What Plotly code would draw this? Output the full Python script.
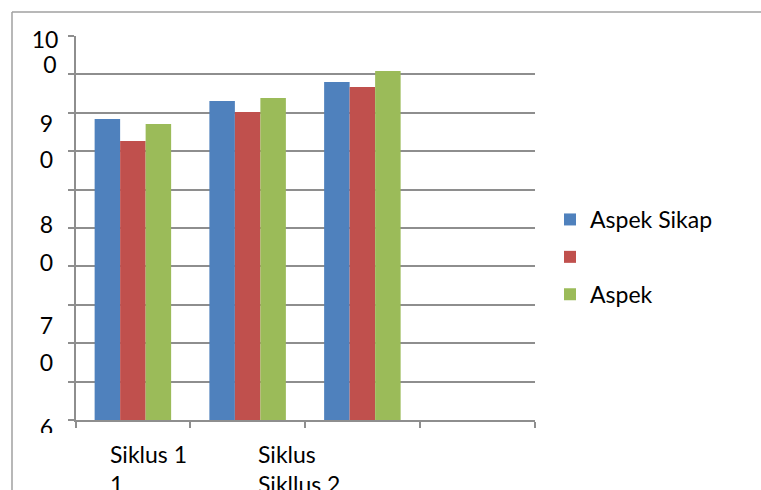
import plotly.graph_objects as go

# ---- data ----
categories = ["Siklus 1", "Siklus 2", "Siklus 3", "Siklus 4"]
series_names = ["Aspek Sikap", "", "Aspek"]
series_colors = ["#4F81BD", "#C0504D", "#9BBB59"]
aspek_sikap = [91.35, 93.23, 95.21, None]
aspek_tengah = [89.06, 92.08, 94.69, None]
aspek_lain = [90.83, 93.54, 96.35, None]

# wrapped y tick label pieces as they appear in the picture
y_label_pieces = ["10", "0", "9", "0", "8", "0", "7", "0", "6"]
y_label_values = [99.38, 96.77, 90.63, 86.88, 80.10, 76.15, 69.58, 65.73, 58.96]
y_label_x = [45, 50, 46.5, 46.5, 46.5, 46.5, 46.5, 46.5, 46.5]

# category labels as they appear (wrapped)
x_label_text = ["Siklus 1<br>1", "Siklus<br>Sikllus 2"]
x_label_left_px = [108, 256]

W, H = 761, 490
FONT = "Lato"
GRAY = "#8e8e8e"


def pxx(x):
    return x / W


def pxy(y):
    return 1 - y / H


fig = go.Figure()
for name, vals, col in zip(series_names, [aspek_sikap, aspek_tengah, aspek_lain], series_colors):
    fig.add_trace(go.Bar(x=categories, y=vals, name=name, marker_color=col,
                         marker_line_width=0, legendgroup=name or "mid"))

# y labels as text on an overlay subplot that clips them
fig.add_trace(go.Scatter(x=y_label_x, y=y_label_values, text=y_label_pieces, mode="text",
                         textposition="middle center", cliponaxis=True,
                         textfont=dict(family=FONT, size=23, color="black"),
                         xaxis="x2", yaxis="y2", showlegend=False, hoverinfo="skip"))

px_per_unit = 384 / 40.0
y2_bottom = 60 - (433 - 420) / px_per_unit
y2_top = 60 + 420 / px_per_unit

fig.update_layout(
    width=W, height=H,
    margin=dict(l=0, r=0, t=0, b=0),
    paper_bgcolor="white", plot_bgcolor="white",
    barmode="group", bargap=1.5 / 4.5, bargroupgap=0,
    font=dict(family=FONT, size=23, color="black"),
    xaxis=dict(type="category", domain=[pxx(75.5), pxx(534.5)], range=[-0.5, 3.5],
               showticklabels=False, ticks="outside", tickson="boundaries", ticklen=6,
               tickwidth=1.5, tickcolor=GRAY, showline=True, linecolor=GRAY, linewidth=1.5,
               showgrid=False, zeroline=False, fixedrange=True),
    yaxis=dict(domain=[pxy(420), pxy(36)], range=[60, 100], dtick=4, tick0=60,
               showticklabels=False, ticks="outside", ticklen=6, tickwidth=1.5, tickcolor=GRAY,
               showline=True, linecolor=GRAY, linewidth=1.5, showgrid=True, gridcolor=GRAY,
               gridwidth=1.5, zeroline=False, fixedrange=True),
    xaxis2=dict(domain=[0, pxx(75)], range=[0, 75], visible=False, anchor="y2", fixedrange=True),
    yaxis2=dict(domain=[pxy(433), 1], range=[y2_bottom, y2_top], visible=False,
                anchor="x2", fixedrange=True),
    legend=dict(x=pxx(550), xanchor="left", y=pxy(198), yanchor="top",
                font=dict(family=FONT, size=23), bgcolor="rgba(0,0,0,0)",
                tracegroupgap=4.5, traceorder="grouped"),
    showlegend=True,
)

# outer frame (top and left edges)
fig.add_shape(type="line", xref="paper", yref="paper", x0=pxx(12), x1=1, y0=pxy(12), y1=pxy(12),
              line=dict(color="#a0a0a0", width=1.5))
fig.add_shape(type="line", xref="paper", yref="paper", x0=pxx(12), x1=pxx(12), y0=0, y1=pxy(12),
              line=dict(color="#a0a0a0", width=1.5))

for txt, xl in zip(x_label_text, x_label_left_px):
    fig.add_annotation(text=txt, xref="paper", yref="paper", x=pxx(xl), y=pxy(438),
                       xanchor="left", yanchor="top", align="left", showarrow=False,
                       font=dict(family=FONT, size=23, color="black"))

fig.write_html("out.html", config={"displayModeBar": False},
               post_script="document.body.style.margin='0';document.body.style.overflow='hidden';")
